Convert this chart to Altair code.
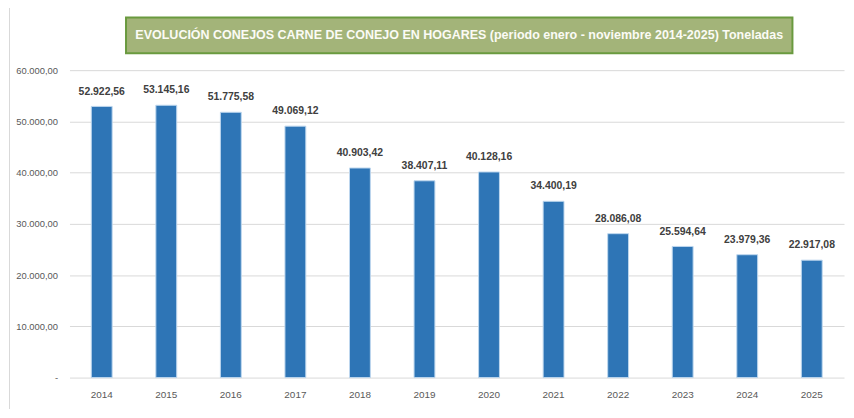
import altair as alt
import pandas as pd

years = ["2014", "2015", "2016", "2017", "2018", "2019", "2020", "2021", "2022", "2023", "2024", "2025"]
values = [52922.56, 53145.16, 51775.58, 49069.12, 40903.42, 38407.11, 40128.16, 34400.19, 28086.08, 25594.64, 23979.36, 22917.08]
labels = ["52.922,56", "53.145,16", "51.775,58", "49.069,12", "40.903,42", "38.407,11",
          "40.128,16", "34.400,19", "28.086,08", "25.594,64", "23.979,36", "22.917,08"]
y_ticks = [0, 10000, 20000, 30000, 40000, 50000, 60000]
title_text = "EVOLUCIÓN CONEJOS CARNE DE CONEJO EN HOGARES (periodo enero - noviembre 2014-2025) Toneladas"

df = pd.DataFrame({"year": years, "value": values, "label": labels})
one = pd.DataFrame({"k": [0]})

FONT = "Liberation Sans, Arial, sans-serif"
W, H = 781, 310

label_expr = ("datum.value == 0 ? '-' : replace(replace(replace(format(datum.value, ',.2f'), "
              "regexp(',', 'g'), 'X'), regexp('[.]', 'g'), ','), regexp('X', 'g'), '.')")

x_enc = alt.X("year:O", sort=years,
              scale=alt.Scale(paddingInner=0.677, paddingOuter=0.338),
              axis=alt.Axis(title=None, labelAngle=0, ticks=False, domain=False,
                            labelPadding=12, labelFont=FONT, labelFontSize=10,
                            labelColor="#595959", grid=False))
y_enc = alt.Y("value:Q", scale=alt.Scale(domain=[0, 60000]),
              axis=alt.Axis(title=None, values=y_ticks, ticks=False, domain=False,
                            labelPadding=12, labelFont=FONT, labelFontSize=9.5,
                            labelColor="#595959", gridColor="#d9d9d9", gridWidth=1,
                            labelExpr=label_expr))

frame = alt.Chart(one).mark_rect(fill="white", fillOpacity=0, stroke="#d9d9d9",
                                 strokeWidth=1, clip=False).encode(
    x=alt.value(-60.5), x2=alt.value(800), y=alt.value(-63.5), y2=alt.value(342.5))

title_box = alt.Chart(one).mark_rect(fill="#a3b479", stroke="#6a9a3f",
                                     strokeWidth=2, clip=False).encode(
    x=alt.value(57), x2=alt.value(729), y=alt.value(-53), y2=alt.value(-17))

title_txt = alt.Chart(one).mark_text(text=title_text, font=FONT, fontSize=12.6,
                                     fontWeight="bold", color="#fbfbf5",
                                     align="center", baseline="middle").encode(
    x=alt.value(393), y=alt.value(-35))

bars = alt.Chart(df).mark_bar(color="#2e75b6", stroke="#bdd7ee", strokeWidth=1).encode(
    x=x_enc, y=y_enc)

texts = alt.Chart(df).mark_text(dy=-10, baseline="bottom", font=FONT, fontSize=10.5,
                                fontWeight="bold", color="#404040").encode(
    x=alt.X("year:O", sort=years), y="value:Q", text="label:N")

chart = alt.layer(frame, bars, texts, title_box, title_txt).properties(
    width=W, height=H,
    autosize=alt.AutoSizeParams(type="none"),
    padding={"left": 62, "top": 61, "right": 2, "bottom": 30},
    background="white",
).configure_view(stroke=None)

chart.save("out.html", embed_options={"renderer": "svg", "actions": False})
